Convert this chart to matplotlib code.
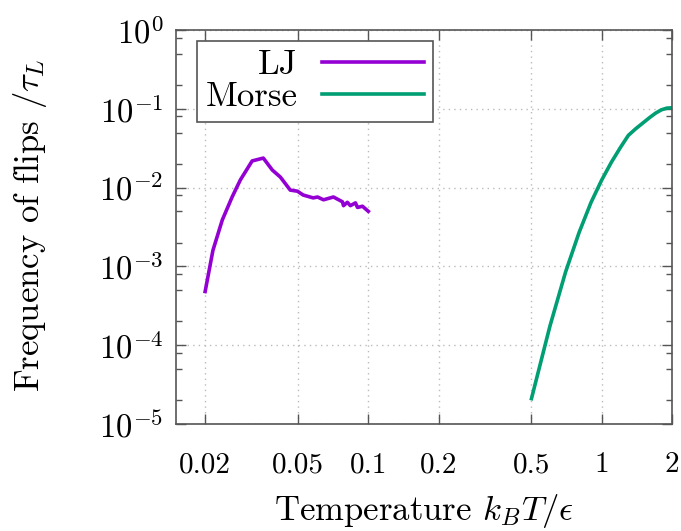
import numpy as np
import matplotlib
matplotlib.use("Agg")
import matplotlib.pyplot as plt
from matplotlib.ticker import FixedLocator, FixedFormatter, LogLocator, NullFormatter

# DATA ---------------------------------------------------------------------------------------------
lj_T = [0.020, 0.0216, 0.0237, 0.0261, 0.0283, 0.0318, 0.0355, 0.0388, 0.042, 0.0463,
        0.0497, 0.0526, 0.0581, 0.0606, 0.0643, 0.0709, 0.0775, 0.0783, 0.0813, 0.0838,
        0.0881, 0.0899, 0.0944, 0.100]
lj_freq = [4.8e-4, 1.6e-3, 3.9e-3, 7.6e-3, 1.25e-2, 2.18e-2, 2.37e-2, 1.67e-2, 1.36e-2, 9.3e-3,
           9.0e-3, 8.05e-3, 7.4e-3, 7.6e-3, 7.0e-3, 7.6e-3, 6.6e-3, 5.9e-3, 6.5e-3, 5.9e-3,
           6.4e-3, 5.6e-3, 5.8e-3, 5.0e-3]

morse_T = [0.5, 0.6, 0.7, 0.8, 0.9, 1.0, 1.1, 1.2, 1.3, 1.4, 1.5, 1.6, 1.7, 1.8, 1.9, 2.0]
morse_freq = [2.1e-5, 1.75e-4, 8.5e-4, 2.7e-3, 6.5e-3, 1.25e-2, 2.1e-2, 3.2e-2, 4.6e-2,
              5.6e-2, 6.6e-2, 7.7e-2, 8.8e-2, 9.7e-2, 1.02e-1, 1.03e-1]

xticks = [0.02, 0.05, 0.1, 0.2, 0.5, 1, 2]
xtick_labels = ["0.02", "0.05", "0.1", "0.2", "0.5", "1", "2"]

# STYLE --------------------------------------------------------------------------------------------
plt.rcParams['font.family'] = ['cmr10', 'DejaVu Serif']
plt.rcParams['mathtext.fontset'] = 'cm'
plt.rcParams['axes.formatter.use_mathtext'] = True
plt.rcParams['font.size'] = 25

# PLOT ---------------------------------------------------------------------------------------------
fig = plt.figure(figsize=(6.81, 5.31), dpi=100)
fig.subplots_adjust(left=0.2584, right=0.9868, top=0.9435, bottom=0.2015)
ax = fig.add_subplot(111)

ax.plot(lj_T, lj_freq, color='#9400d3', lw=2.6, label='LJ')
ax.plot(morse_T, morse_freq, color='#009e73', lw=2.6, label='Morse')

ax.set_xscale('log')
ax.set_yscale('log')
ax.set_xlim(0.015, 2)
ax.set_ylim(1e-5, 1)

ax.xaxis.set_major_locator(FixedLocator(xticks))
ax.xaxis.set_major_formatter(FixedFormatter(xtick_labels))
ax.xaxis.set_minor_locator(FixedLocator([]))
ax.yaxis.set_major_locator(LogLocator(base=10, numticks=10))
ax.yaxis.set_minor_locator(LogLocator(base=10, subs=[2, 5, 8], numticks=10))
ax.yaxis.set_minor_formatter(NullFormatter())

ax.tick_params(which='both', direction='in', top=True, right=True, color='#555555')
ax.tick_params(which='major', length=7, width=1)
ax.tick_params(which='minor', length=4, width=1)
ax.tick_params(axis='x', which='major', pad=20, labelsize=21)
ax.tick_params(axis='y', which='major', pad=9, labelsize=23.5)
for s in ax.spines.values():
    s.set_color('#555555')
    s.set_linewidth(1.2)

ax.grid(True, which='major', ls=(0, (1, 3)), color='#bbbbbb', lw=1)

ax.set_xlabel(r'Temperature $k_BT/\epsilon$')
ax.set_ylabel(r'Frequency of flips $/\tau_L$')
ax.xaxis.set_label_coords(0.5, -0.172)
ax.yaxis.set_label_coords(-0.256, 0.505)

leg = ax.legend(loc='upper left', bbox_to_anchor=(0.042, 0.972), borderaxespad=0,
                markerfirst=False, fancybox=False, framealpha=1, edgecolor='#555555',
                handlelength=2.95, handletextpad=0.7, labelspacing=0.0, borderpad=0.25,
                fontsize=25)
leg.get_frame().set_linewidth(1.2)

fig.savefig('out.png', dpi=100)
